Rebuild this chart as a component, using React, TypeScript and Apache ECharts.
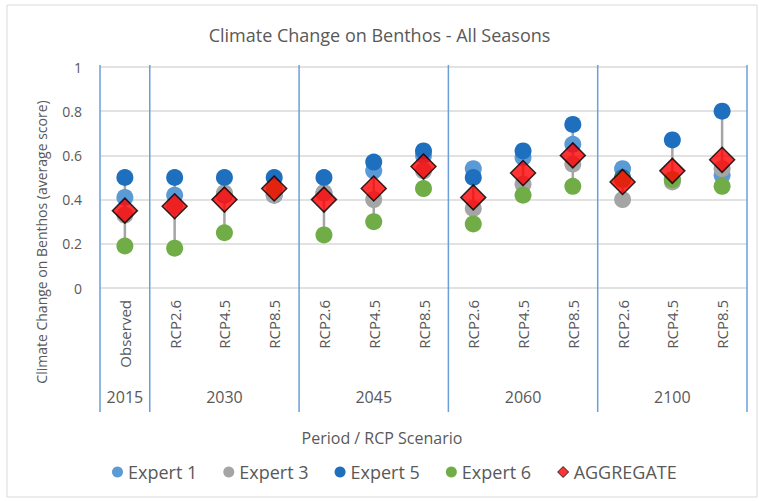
import React, { useEffect, useRef } from "react";
import * as echarts from "echarts";

const categories = [
  "Observed",
  "RCP2.6", "RCP4.5", "RCP8.5",
  "RCP2.6", "RCP4.5", "RCP8.5",
  "RCP2.6", "RCP4.5", "RCP8.5",
  "RCP2.6", "RCP4.5", "RCP8.5",
];
const years = ["2015", "2030", "2045", "2060", "2100"];
const groupSizes = [1, 3, 3, 3, 3];

const expert1 = [0.41, 0.42, 0.42, 0.42, 0.43, 0.53, 0.6, 0.54, 0.59, 0.65, 0.54, 0.49, 0.51];
const expert3 = [0.33, 0.37, 0.43, 0.42, 0.43, 0.4, 0.53, 0.36, 0.47, 0.56, 0.4, 0.48, 0.54];
const expert5 = [0.5, 0.5, 0.5, 0.5, 0.5, 0.57, 0.62, 0.5, 0.62, 0.74, 0.5, 0.67, 0.8];
const expert6 = [0.19, 0.18, 0.25, 0.45, 0.24, 0.3, 0.45, 0.29, 0.42, 0.46, 0.49, 0.49, 0.46];
const aggregate = [0.35, 0.37, 0.4, 0.45, 0.4, 0.45, 0.55, 0.41, 0.52, 0.6, 0.48, 0.53, 0.58];

const yTicks = { min: 0, max: 1, interval: 0.2 };

const FONT = "'Open Sans', sans-serif";
const TXT = "#595959";

export default function App() {
  const ref = useRef<HTMLDivElement>(null);
  useEffect(() => {
    if (!ref.current) return;
    const chart = echarts.init(ref.current, null, { renderer: "svg" });

    const hiLo = categories.map((_, i) => {
      const vals = [expert1[i], expert3[i], expert5[i], expert6[i]];
      return [i, Math.min(...vals), Math.max(...vals)];
    });
    const groups: number[][] = [];
    let s = 0;
    groupSizes.forEach((n, gi) => {
      groups.push([s, s + n - 1, gi]);
      s += n;
    });

    const expertSeries = (name: string, data: number[], color: string) => ({
      name,
      type: "scatter",
      data,
      symbol: "circle",
      symbolSize: 17,
      itemStyle: { color, opacity: 1 },
      z: 5,
    });

    chart.setOption({
      animation: false,
      textStyle: { fontFamily: FONT },
      title: {
        text: "Climate Change on Benthos - All Seasons",
        left: "center",
        top: 21,
        textStyle: { fontFamily: FONT, fontSize: 18, fontWeight: "normal", color: TXT },
      },
      legend: {
        top: 458,
        left: 107,
        itemGap: 26,
        itemWidth: 11,
        itemHeight: 11,
        textStyle: { fontFamily: FONT, fontSize: 18, color: TXT },
        data: [
          { name: "Expert 1", icon: "circle" },
          { name: "Expert 3", icon: "circle" },
          { name: "Expert 5", icon: "circle" },
          { name: "Expert 6", icon: "circle" },
          { name: "AGGREGATE", icon: "diamond", itemStyle: { borderColor: "#000", borderWidth: 1 } },
        ],
      },
      grid: { left: 100, right: 12, top: 67, bottom: 213 },
      xAxis: {
        type: "category",
        data: categories,
        boundaryGap: true,
        axisLine: { show: false },
        axisTick: { show: false },
        axisLabel: {
          interval: 0,
          rotate: 90,
          margin: 12,
          fontFamily: FONT,
          fontSize: 15,
          color: TXT,
        },
      },
      yAxis: {
        type: "value",
        min: yTicks.min,
        max: yTicks.max,
        interval: yTicks.interval,
        axisLine: { show: false },
        axisTick: { show: false },
        axisLabel: { fontFamily: FONT, fontSize: 14, color: TXT, margin: 18 },
        splitLine: { lineStyle: { color: "#D9D9D9", width: 1.5 } },
      },
      graphic: [
        {
          type: "rect",
          shape: { x: 7, y: 5, width: 750, height: 492 },
          style: { fill: "none", stroke: "#D9D9D9", lineWidth: 1 },
          silent: true,
        },
        {
          type: "text",
          x: 41,
          y: 242,
          rotation: Math.PI / 2,
          style: {
            text: "Climate Change on Benthos (average score)",
            fontFamily: FONT,
            fontSize: 14,
            fill: TXT,
            align: "center",
            verticalAlign: "middle",
          },
        },
        {
          type: "text",
          x: 382,
          y: 438,
          style: {
            text: "Period / RCP Scenario",
            fontFamily: FONT,
            fontSize: 16,
            fill: TXT,
            align: "center",
            verticalAlign: "middle",
          },
        },
      ],
      series: [
        {
          name: "dividers",
          type: "custom",
          silent: true,
          clip: false,
          z: 1,
          data: groups,
          renderItem: (params: any, api: any) => {
            const start = api.value(0);
            const end = api.value(1);
            const gi = api.value(2);
            const band = api.size([1, 0])[0];
            const x0 = api.coord([start, 0])[0] - band / 2;
            const x1 = api.coord([end, 0])[0] + band / 2;
            const yb = api.coord([start, 0])[1];
            const yt = api.coord([start, 1])[1];
            const lineStyle = { stroke: "#6A9FD8", lineWidth: 1.5 };
            const children: any[] = [
              { type: "line", shape: { x1: x0, y1: yt - 2, x2: x0, y2: yb + 124 }, style: lineStyle },
              {
                type: "text",
                x: (x0 + x1) / 2,
                y: yb + 109,
                style: {
                  text: years[gi],
                  fontFamily: FONT,
                  fontSize: 16,
                  fill: TXT,
                  align: "center",
                  verticalAlign: "middle",
                },
              },
            ];
            if (gi === groupSizes.length - 1) {
              children.push({ type: "line", shape: { x1: x1, y1: yt - 2, x2: x1, y2: yb + 124 }, style: lineStyle });
            }
            return { type: "group", children };
          },
        },
        {
          name: "hilo",
          type: "custom",
          silent: true,
          z: 3,
          data: hiLo,
          renderItem: (params: any, api: any) => {
            const a = api.coord([api.value(0), api.value(1)]);
            const b = api.coord([api.value(0), api.value(2)]);
            return {
              type: "line",
              shape: { x1: a[0], y1: a[1], x2: b[0], y2: b[1] },
              style: { stroke: "#A5A5A5", lineWidth: 2.5 },
            };
          },
        },
        expertSeries("Expert 1", expert1, "#5B9BD5"),
        expertSeries("Expert 3", expert3, "#A5A5A5"),
        expertSeries("Expert 5", expert5, "#1F6FBF"),
        expertSeries("Expert 6", expert6, "#70AD47"),
        {
          name: "AGGREGATE",
          type: "scatter",
          data: aggregate,
          symbol: "diamond",
          symbolSize: [25, 25],
          itemStyle: { color: "#FF0000", borderColor: "#000000", borderWidth: 1.5 },
          z: 6,
        },
      ],
    });
    return () => chart.dispose();
  }, []);
  return (
    <div
      ref={ref}
      style={{ position: "fixed", left: 0, top: 0, width: 759, height: 501, background: "#fff" }}
    />
  );
}
